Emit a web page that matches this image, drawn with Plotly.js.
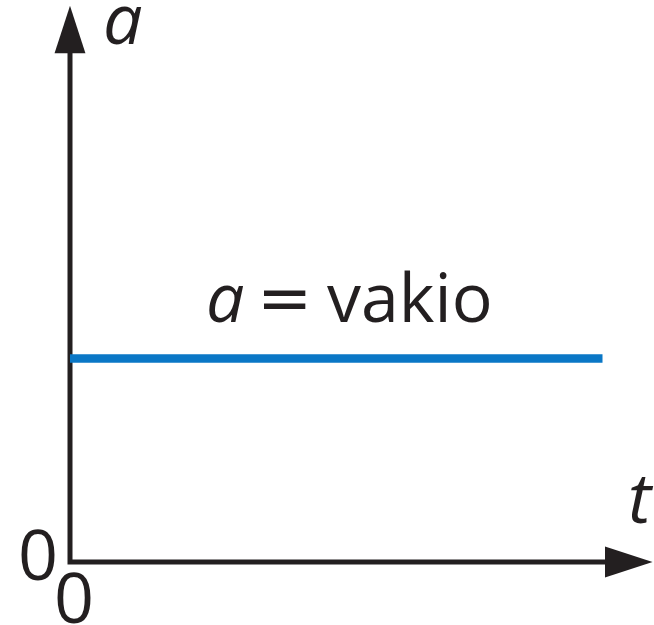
<!DOCTYPE html>
<html>
<head>
<meta charset="utf-8">
<script src="https://cdn.plot.ly/plotly-3.0.1.min.js"></script>
<style>html,body{margin:0;padding:0;background:#fff;}#chart{width:654px;height:625px;}</style>
</head>
<body>
<div id="chart"></div>
<script>
// Data
var tValues = [0, 10];
var aValues = [1, 1];
var labelSymbol = 'a';
var labelEquals = '=';
var labelWord = 'vakio';
var xLabel = 't';
var yLabel = 'a';
var originLabel = '0';

// Axis extents (data units)
var tMax = 10.94;   // x-axis arrow tip
var aMax = 2.734;   // y-axis arrow tip
var tLineEnd = 10.3;
var aLineEnd = 2.55;

var W = 654, H = 625;
var x0px = 70, y0px = 562;
var pxPerT = (602.5 - x0px) / 10;
var pxPerA = (y0px - 358.5) / 1;
var xRange = [-x0px / pxPerT, (W - x0px) / pxPerT];
var yRange = [-(H - y0px) / pxPerA, y0px / pxPerA];

var ink = '#231f20';
var blue = '#0a77c6';

var traces = [
  { x: [0, 0, tLineEnd], y: [aLineEnd, 0, 0], mode: 'lines',
    line: { color: ink, width: 5 }, hoverinfo: 'skip', cliponaxis: false },
  { x: tValues, y: aValues, mode: 'lines',
    line: { color: blue, width: 8.5 }, hoverinfo: 'skip', cliponaxis: false },
  { x: [0, tMax], y: [aMax, 0], mode: 'markers',
    marker: { symbol: 'arrow', size: 50, angle: [0, 90], color: ink, line: { width: 0 } },
    hoverinfo: 'skip', cliponaxis: false }
];

function px(x) { return x / W; }
function py(y) { return 1 - y / H; }
var font = 'Open Sans, Noto Sans, DejaVu Sans, sans-serif';

function ann(text, x, y, size, fam) {
  return { text: text, x: px(x), y: py(y), xref: 'paper', yref: 'paper',
    showarrow: false, xanchor: 'center', yanchor: 'middle',
    font: { family: fam || font, size: size, color: ink } };
}

var annotations = [
  ann('<i>' + yLabel + '</i>', 123, 17, 70),
  ann('<i>' + xLabel + '</i>', 641, 496, 70),
  ann(originLabel, 37.5, 553, 70),
  ann(originLabel, 73.5, 596, 70),
  ann('<i>' + labelSymbol + '</i>', 225, 295, 68),
  ann(labelEquals, 284, 297, 66, 'DejaVu Sans, sans-serif'),
  ann(labelWord, 409.5, 295, 68)
];

var layout = {
  width: W, height: H,
  margin: { l: 0, r: 0, t: 0, b: 0, pad: 0 },
  paper_bgcolor: '#fff', plot_bgcolor: '#fff',
  showlegend: false,
  xaxis: { range: xRange, visible: false, fixedrange: true },
  yaxis: { range: yRange, visible: false, fixedrange: true },
  annotations: annotations
};

Plotly.newPlot('chart', traces, layout, { staticPlot: true, displayModeBar: false });
</script>
</body>
</html>
